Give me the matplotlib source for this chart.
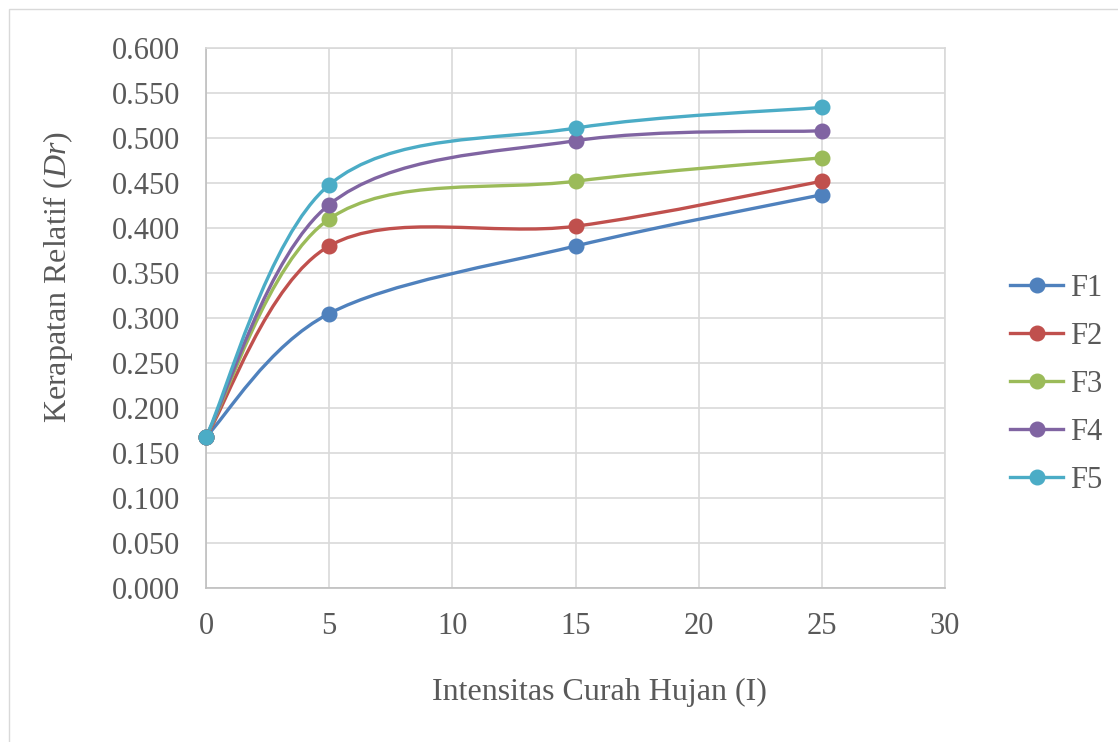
import matplotlib
matplotlib.use('Agg')
import matplotlib.pyplot as plt
from matplotlib.path import Path
from matplotlib.patches import PathPatch, Rectangle
from matplotlib.lines import Line2D

intensitas = [0, 5, 15, 25]
nama_seri = ['F1', 'F2', 'F3', 'F4', 'F5']
F1 = [0.168, 0.305, 0.380, 0.437]
F2 = [0.168, 0.380, 0.402, 0.452]
F3 = [0.168, 0.410, 0.452, 0.478]
F4 = [0.168, 0.426, 0.497, 0.508]
F5 = [0.168, 0.448, 0.511, 0.534]
warna = ['#4F81BD', '#C0504D', '#9BBB59', '#8064A2', '#4BACC6']
y_ticks = [i * 0.05 for i in range(13)]
x_ticks = [0, 5, 10, 15, 20, 25, 30]

plt.rcParams['font.family'] = ['Liberation Serif', 'DejaVu Serif']
plt.rcParams['mathtext.fontset'] = 'custom'
plt.rcParams['mathtext.it'] = 'Liberation Serif:italic'
plt.rcParams['mathtext.rm'] = 'Liberation Serif'

teks = '#595959'
grid = '#d9d9d9'
fs = 22
fs_label = 23


def kurva_halus(xs, ys):
    # bezier ala Excel (catmull-rom)
    pts = list(zip(xs, ys))
    n = len(pts)
    verts = [pts[0]]
    codes = [Path.MOVETO]
    for i in range(n - 1):
        p0 = pts[i - 1] if i > 0 else pts[i]
        p1 = pts[i]
        p2 = pts[i + 1]
        p3 = pts[i + 2] if i + 2 < n else pts[i + 1]
        c1 = (p1[0] + (p2[0] - p0[0]) / 6, p1[1] + (p2[1] - p0[1]) / 6)
        c2 = (p2[0] - (p3[0] - p1[0]) / 6, p2[1] - (p3[1] - p1[1]) / 6)
        verts += [c1, c2, p2]
        codes += [Path.CURVE4] * 3
    return Path(verts, codes)


fig = plt.figure(figsize=(11.18, 7.42), dpi=100)
ax = fig.add_axes([0.1843, 0.2075, 0.6610, 0.7278])

fig.patches.append(Rectangle((9 / 1118, -0.05), 1.1, 1 - 9 / 742 + 0.05,
                             transform=fig.transFigure, fill=False,
                             edgecolor='#d9d9d9', lw=1))

handles = []
for nama, data, c in zip(nama_seri, [F1, F2, F3, F4, F5], warna):
    ax.add_patch(PathPatch(kurva_halus(intensitas, data), facecolor='none',
                           edgecolor=c, lw=2.4, zorder=3, capstyle='round'))
    ax.plot(intensitas, data, linestyle='none', marker='o', ms=10.5,
            color=c, zorder=4, clip_on=False)
    handles.append(Line2D([], [], color=c, lw=2.4, marker='o', ms=10.5, label=nama))

ax.set_xlim(0, 30)
ax.set_ylim(0, 0.6)
ax.set_xticks(x_ticks)
ax.set_yticks(y_ticks)
ax.set_yticklabels(['%.3f' % v for v in y_ticks])
ax.grid(True, color=grid, lw=1.2, zorder=0)
ax.set_axisbelow(True)
for s in ax.spines.values():
    s.set_color(grid)
    s.set_linewidth(1.2)
ax.spines['left'].set_color('#bfbfbf')
ax.spines['bottom'].set_color('#bfbfbf')
ax.tick_params(length=0, labelsize=fs, labelcolor=teks)
ax.tick_params(axis='y', pad=18.5)
ax.tick_params(axis='x', pad=17)

ax.set_xlabel('Intensitas Curah Hujan (I)', fontsize=fs_label, color=teks, va='center')
ax.xaxis.set_label_coords((599 - 206) / 739, (588 - 692) / 540)
ax.set_ylabel('Kerapatan Relatif ($\\mathit{Dr}$)', fontsize=fs_label, color=teks, va='center')
ax.yaxis.set_label_coords((58 - 206) / 739, (588 - 277) / 540)

fig.legend(handles=handles, loc='center left', bbox_to_anchor=(1010 / 1118, 0.482),
           frameon=False, fontsize=fs, labelcolor=teks, handlelength=1.75,
           handletextpad=0.2, labelspacing=0.62, borderpad=0, borderaxespad=0)

fig.savefig('out.png', dpi=100)
